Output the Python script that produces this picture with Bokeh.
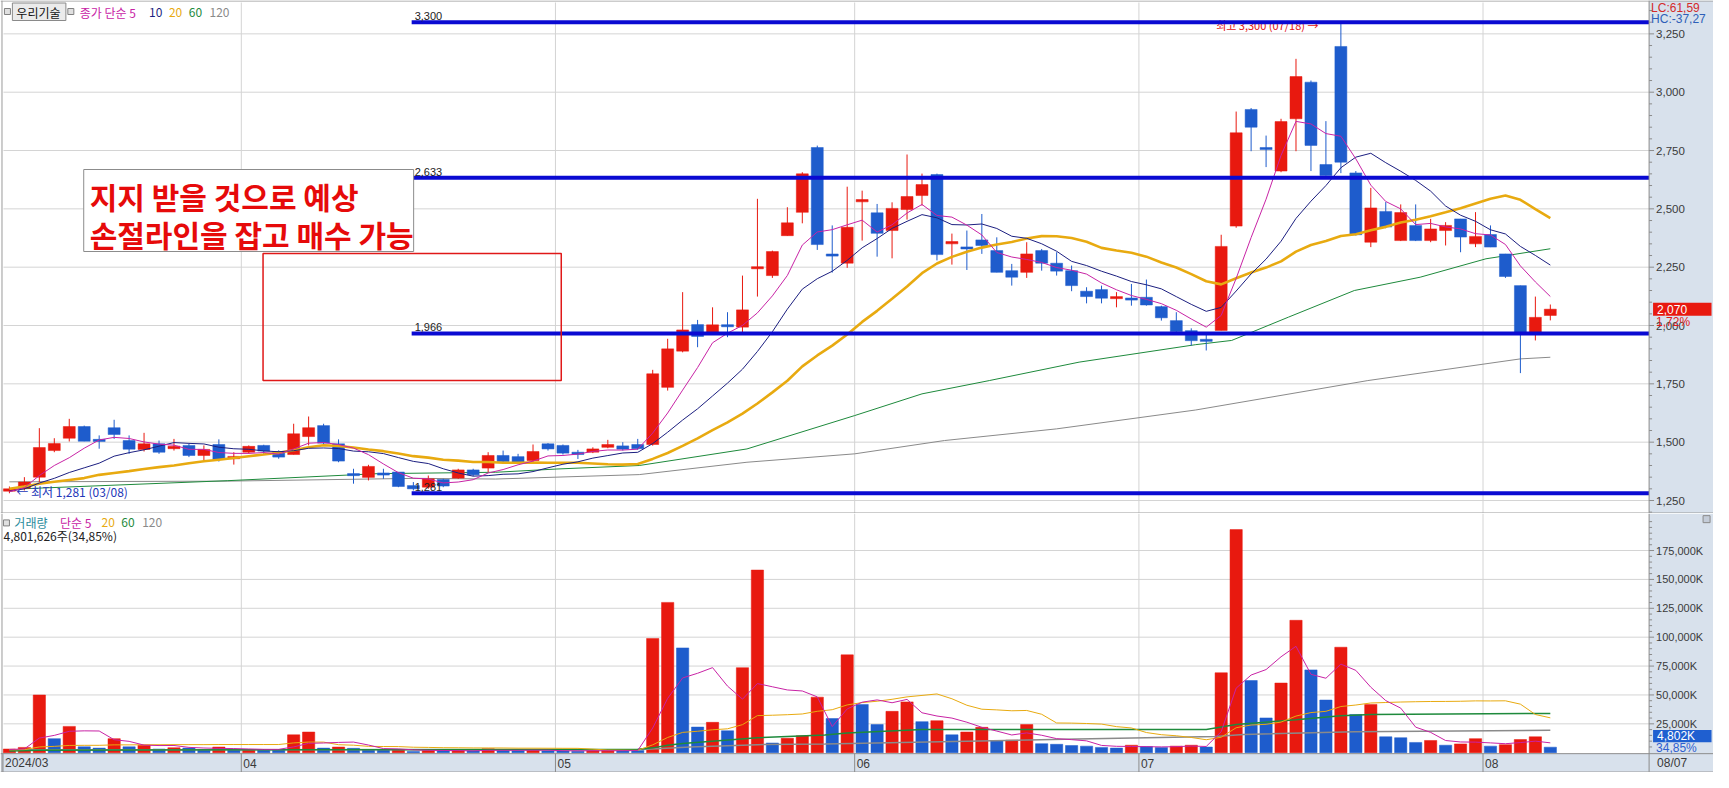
import numpy as np
import pandas as pd
from bokeh.plotting import figure
from bokeh.layouts import column
from bokeh.models import Range1d, ColumnDataSource
from bokeh.core.properties import value
from bokeh.embed import file_html
from bokeh.resources import INLINE

# ---------------- data (우리기술, daily) ----------------
holidays = ["2024-04-10", "2024-05-01", "2024-05-06", "2024-05-15", "2024-06-06"]
dates = [d for d in pd.bdate_range("2024-03-08", "2024-08-07") if d.strftime("%Y-%m-%d") not in holidays]

opens = [1290, 1303, 1350, 1464, 1517, 1567, 1510, 1562, 1507, 1469,
         1493, 1472, 1486, 1443, 1490, 1429, 1457, 1486, 1460, 1447,
         1524, 1571, 1493, 1362, 1349, 1365, 1372, 1314, 1307, 1340,
         1346, 1381, 1389, 1443, 1438, 1421, 1493, 1486, 1457, 1457,
         1478, 1484, 1490, 1490, 1735, 1890, 2004, 1971, 2000, 1993,
         2245, 2214, 2385, 2485, 2763, 2304, 2267, 2530, 2483, 2407,
         2497, 2557, 2647, 2350, 2335, 2367, 2321, 2235, 2228, 2321,
         2267, 2235, 2147, 2154, 2118, 2117, 2121, 2081, 2021, 1978,
         1938, 1979, 2426, 2926, 2760, 2662, 2886, 3043, 2690, 3196,
         2654, 2357, 2489, 2364, 2429, 2364, 2407, 2457, 2350, 2390,
         2307, 2171, 1971, 2043]
highs = [1310, 1350, 1560, 1517, 1600, 1571, 1529, 1596, 1529, 1540,
         1507, 1514, 1493, 1486, 1512, 1457, 1486, 1489, 1465, 1579,
         1610, 1579, 1512, 1386, 1403, 1386, 1372, 1329, 1357, 1343,
         1386, 1386, 1457, 1464, 1450, 1490, 1496, 1490, 1467, 1478,
         1510, 1500, 1514, 1810, 1943, 2143, 2024, 2078, 2057, 2214,
         2543, 2321, 2507, 2657, 2771, 2429, 2595, 2578, 2521, 2528,
         2733, 2651, 2651, 2394, 2407, 2478, 2378, 2264, 2357, 2328,
         2314, 2257, 2164, 2171, 2143, 2178, 2197, 2085, 2057, 1988,
         1964, 2389, 2917, 2932, 2814, 2886, 3143, 3050, 2876, 3300,
         2662, 2590, 2529, 2519, 2519, 2457, 2443, 2457, 2486, 2429,
         2307, 2171, 2124, 2090]
lows = [1281, 1293, 1329, 1457, 1503, 1504, 1472, 1514, 1450, 1460,
        1450, 1464, 1436, 1422, 1417, 1404, 1450, 1450, 1429, 1447,
        1486, 1489, 1414, 1322, 1336, 1343, 1307, 1293, 1300, 1307,
        1343, 1354, 1372, 1407, 1407, 1414, 1464, 1447, 1428, 1453,
        1474, 1464, 1467, 1485, 1721, 1885, 1907, 1964, 1950, 1971,
        2124, 2204, 2385, 2438, 2324, 2227, 2247, 2364, 2295, 2288,
        2454, 2514, 2279, 2261, 2238, 2307, 2228, 2171, 2204, 2235,
        2214, 2147, 2095, 2095, 2078, 2085, 2085, 2021, 1968, 1914,
        1893, 1979, 2419, 2747, 2679, 2657, 2747, 2662, 2643, 2653,
        2386, 2336, 2417, 2362, 2362, 2357, 2343, 2314, 2336, 2336,
        2204, 1796, 1936, 2022]
closes = [1300, 1329, 1477, 1494, 1567, 1504, 1505, 1533, 1470, 1493,
          1457, 1483, 1443, 1469, 1426, 1439, 1482, 1462, 1436, 1536,
          1562, 1496, 1419, 1360, 1396, 1362, 1310, 1300, 1343, 1312,
          1381, 1360, 1443, 1417, 1414, 1460, 1471, 1453, 1447, 1471,
          1490, 1470, 1472, 1793, 1900, 1981, 1953, 2003, 1998, 2067,
          2250, 2317, 2440, 2650, 2347, 2300, 2421, 2540, 2395, 2502,
          2553, 2604, 2304, 2360, 2330, 2343, 2228, 2207, 2307, 2267,
          2233, 2171, 2124, 2117, 2121, 2110, 2088, 2033, 1974, 1935,
          1935, 2339, 2826, 2850, 2757, 2874, 3067, 2772, 2643, 2700,
          2389, 2504, 2422, 2484, 2364, 2414, 2429, 2379, 2382, 2336,
          2210, 1971, 2035, 2070]
volumes = [3200, 4600, 49960, 12200, 22800, 5100, 4000, 12200, 5100, 6500,
           3200, 4300, 4000, 2400, 4900, 2400, 2600, 2400, 2300, 15500,
           17900, 4000, 4900, 3800, 2700, 2500, 2600, 1050, 1860, 1700,
           1860, 1600, 3500, 1900, 1700, 2300, 1500, 1400, 1300, 2000,
           2200, 2000, 1900, 98900, 130100, 90700, 22200, 26300, 19000, 73600,
           158100, 8400, 12500, 14600, 48100, 29600, 84700, 41800, 24400, 35800,
           44000, 26900, 27700, 15500, 17900, 22000, 10500, 10900, 24400, 7800,
           7300, 6200, 5700, 4600, 4000, 6500, 5400, 4600, 5700, 6500,
           4900, 69200, 193100, 62500, 30100, 60300, 114600, 71700, 45600, 91300,
           33100, 41800, 13800, 13000, 8900, 10600, 6500, 7600, 12200, 5700,
           7000, 11400, 13780, 4802]   # thousand shares
last_volume_shares = 4801626
lc_hc = ["LC:61,59", "HC:-37,27"]

# moving-average values read from the picture where earlier history is not shown
ma5_early = [1288, 1305, 1357, 1400]
ma10_early = [1290, 1300, 1325, 1345, 1370, 1390, 1410, 1440, 1455]
ma20_early = [1300, 1310, 1322, 1330, 1338, 1346, 1360, 1368, 1376, 1385,
              1393, 1400, 1410, 1418, 1425, 1432, 1440, 1447, 1455]
ma60_idx = [0, 14.6, 24.6, 32.5, 36.6, 42.1, 49.3, 56.5, 61.0, 65.5, 71.5, 79.3, 81.7, 85.5, 89.9, 94.3, 98.7, 103]
ma60_val = [1298, 1335, 1365, 1371, 1385, 1400, 1471, 1614, 1707, 1764, 1843, 1918, 1936, 2036, 2150, 2207, 2286, 2329]
ma120_idx = [0, 14.6, 27.2, 32.5, 42.1, 49.3, 56.5, 62.5, 70.0, 79.3, 90.8, 101.0, 103]
ma120_val = [1330, 1333, 1345, 1342, 1361, 1414, 1450, 1507, 1557, 1638, 1764, 1857, 1864]

vma5_early = [2800, 3300, 12700, 15000]
vma20_early = [2500, 2700, 5000, 5500, 6300, 6400, 6400, 6800, 6800, 6900,
               6900, 7000, 7000, 7000, 7100, 7100, 7100, 7100, 7100]
vma60_idx = [0, 2, 42, 43, 44, 45, 50, 54.5, 56, 61, 80, 82, 86, 89, 91, 103]
vma60_val = [1400, 2200, 3000, 4200, 6400, 7900, 13000, 15400, 17000, 20000, 20000, 24400, 28500, 32000, 33100, 34000]
vma120_idx = [0, 42, 45.5, 50, 54.5, 71.4, 80.6, 82.5, 89.9, 103]
vma120_val = [2500, 2500, 5000, 7000, 7600, 11900, 14100, 15800, 18200, 19500]

levels = [3300, 2633, 1966, 1281]
price_ticks = [1250, 1500, 1750, 2000, 2250, 2500, 2750, 3000, 3250]
vol_ticks = [25000, 50000, 75000, 100000, 125000, 150000, 175000]

# ---------------- style ----------------
RED = "#e8190f"
BLUE = "#1e5ccc"
LEVEL = "#0a0ad2"
PANEL = "#d8e1ec"
GRID = "#d4d4d4"
EDGE = "#8c8c8c"
TXT = "#3a3a3a"
C_MA5, C_MA10, C_MA20, C_MA60, C_MA120 = "#c823a5", "#1c1f80", "#e8aa10", "#1e8a3c", "#8a8a8a"
KR = "Noto Sans CJK KR"
NUM = "Liberation Sans"

W, H1, H2 = 1713, 513, 259


def X(px):   # reference pixel -> candle index
    return (px - 9) / 15.1


def P(py):   # reference pixel -> price
    return 1250 + (500 - py) * 4.286


def V(py):   # reference pixel -> volume (K)
    return (767 - py) / 30.67 * 25000


n = len(closes)
idx = np.arange(n)
o = np.array(opens, float)
h = np.array(highs, float)
l = np.array(lows, float)
c = np.array(closes, float)
v = np.array(volumes, float)

ma5 = pd.Series(c).rolling(5).mean().to_numpy()
ma5[:4] = ma5_early
ma10 = pd.Series(c).rolling(10).mean().to_numpy()
ma10[:9] = ma10_early
ma20 = pd.Series(c).rolling(20).mean().to_numpy()
ma20[:19] = ma20_early
vma5 = pd.Series(v).rolling(5).mean().to_numpy()
vma5[:4] = vma5_early
vma20 = pd.Series(v).rolling(20).mean().to_numpy()
vma20[:19] = vma20_early

months = [d.month for d in dates]
bounds = [i - 0.5 for i in range(1, n) if months[i] != months[i - 1]]
month_names = [dates[0].strftime("%Y/%m")] + [f"{dates[i].month:02d}" for i in range(1, n) if months[i] != months[i - 1]]

col = np.where(c >= o, RED, BLUE)
bt = np.maximum(o, c)
bb = np.minimum(o, c)
pad = np.clip(9 - (bt - bb), 0, None) / 2
src = ColumnDataSource(dict(x=idx, h=h, l=l, bt=bt + pad, bb=bb - pad, col=col))

vcol = [RED] + [RED if v[i] >= v[i - 1] else BLUE for i in range(1, n)]
vsrc = ColumnDataSource(dict(x=idx, v=v, col=vcol))

xr = Range1d(X(0), X(1729))


def bare(height, yr):
    f = figure(width=W, height=height, x_range=xr, y_range=yr, output_backend="svg",
               toolbar_location=None, x_axis_location=None, y_axis_location=None,
               min_border=0, background_fill_color="white", border_fill_color="white",
               outline_line_color=None)
    f.grid.visible = False
    return f


def gtext(fig, x, y, s, color, size="12px", font=KR, align="left", baseline="middle",
          style="normal", yoff=0, xoff=0):
    fig.text(x=[x], y=[y], text=[s], text_color=color, text_font=value(font), text_font_size=size,
             text_align=align, text_baseline=baseline, text_font_style=style, y_offset=yoff, x_offset=xoff)


def hseg(fig, ys, x0, x1, color, width=1):
    fig.segment(x0=[x0] * len(ys), y0=list(ys), x1=[x1] * len(ys), y1=list(ys), line_color=color, line_width=width)


def vseg(fig, xs, y0, y1, color, width=1):
    fig.segment(x0=list(xs), y0=[y0] * len(xs), x1=list(xs), y1=[y1] * len(xs), line_color=color, line_width=width)


def box(fig, left, right, top, bottom, fill=None, line="#8c8c8c", width=1):
    fig.quad(left=[left], right=[right], top=[top], bottom=[bottom],
             fill_color=fill if fill else "white", fill_alpha=1 if fill else 0,
             line_color=line, line_width=width)


# ---------------- price pane ----------------
p = bare(H1, Range1d(P(513), P(0)))
hseg(p, price_ticks, X(3), X(1664), GRID)
vseg(p, bounds, P(2), P(513), GRID)

p.line(ma120_idx, ma120_val, line_color=C_MA120, line_width=1)
p.line(ma60_idx, ma60_val, line_color=C_MA60, line_width=1)
p.segment("x", "l", "x", "h", source=src, line_color="col", line_width=1)
p.vbar(x="x", width=0.8, top="bt", bottom="bb", source=src, fill_color="col", line_color="col", line_width=0.5)
p.line(idx, ma20, line_color=C_MA20, line_width=2.6)
p.line(idx, ma10, line_color=C_MA10, line_width=1)
p.line(idx, ma5, line_color=C_MA5, line_width=1)

# high / low markers
gtext(p, X(1227), P(24), f"최고 {max(highs):,} ({dates[int(np.argmax(h))].strftime('%m/%d')}) →", "#e01010", size="11px")
gtext(p, X(16), P(491), f"← 최저 {min(lows):,} ({dates[int(np.argmin(l))].strftime('%m/%d')})", "#2236b8", size="12px")

# support / resistance lines
hseg(p, levels, X(415), X(1664), LEVEL, width=4)
for lv in levels:
    gtext(p, X(418), lv, f"{lv:,}", "#222222", size="11px", font=NUM, baseline="bottom", yoff=-2)

# right price scale panel
p.quad(left=[X(1664)], right=[X(1729)], bottom=[P(513)], top=[P(0)], fill_color=PANEL, line_color=None)
vseg(p, [X(1664)], P(0), P(513), EDGE)
minor_p = [m for m in range(1200, 3400, 50) if m not in price_ticks]
hseg(p, minor_p, X(1664), X(1667), EDGE)
hseg(p, price_ticks, X(1664), X(1669), EDGE)
for t in price_ticks:
    gtext(p, X(1671), t, f"{t:,}", TXT, size="11.5px", font=NUM)
gtext(p, X(1666), P(7), lc_hc[0], "#d42a2a", font=NUM)
gtext(p, X(1666), P(18), lc_hc[1], "#2e5fb8", font=NUM)
half = 6.5 * 4.286
p.quad(left=[X(1668)], right=[X(1727)], bottom=[closes[-1] - half], top=[closes[-1] + half],
       fill_color=RED, line_color=None)
gtext(p, X(1672), closes[-1], f"{closes[-1]:,}", "white", size="12px", font=NUM)
pct = (closes[-1] / closes[-2] - 1) * 100
gtext(p, X(1671), P(321), f"{pct:.2f}%".replace(".", ","), "#e01818", size="12px", font=NUM)

# frame edges
hseg(p, [P(0.5)], X(0), X(1729), "#9a9a9a")
vseg(p, [X(1.5)], P(0), P(513), "#9a9a9a")
hseg(p, [P(512.5)], X(0), X(1729), "#9a9a9a")

# header legend
p.rect(x=[X(7), X(71)], y=[P(11), P(11)], width=6, height=6, width_units="screen", height_units="screen",
       fill_color="#e0e0e0", line_color="#808080")
box(p, X(12), X(66), P(2.5), P(20), fill="#ebebeb", line="#8a8a8a")
gtext(p, X(16), P(11.5), "우리기술", "#111111")
for xx, s, cc in [(80, "종가 단순 5", C_MA5), (150, "10", C_MA10), (170, "20", C_MA20),
                  (190, "60", C_MA60), (211, "120", C_MA120)]:
    gtext(p, X(xx), P(11.5), s, cc)

# annotation box
box(p, X(84), X(417), P(169), P(251), fill="white", line="#8c8c8c")
gtext(p, X(90), P(195), "지지 받을 것으로 예상", "#e60a0a", size="30px", style="bold")
gtext(p, X(90), P(233), "손절라인을 잡고 매수 가능", "#e60a0a", size="30px", style="bold")
box(p, X(265), X(566), P(253), P(380), fill=None, line="#e01818", width=1.5)

# ---------------- volume pane ----------------
q = bare(H2, Range1d(V(788), V(513)))
hseg(q, vol_ticks, X(3), X(1664), GRID)
vseg(q, bounds, V(513), V(768), GRID)

q.vbar(x="x", width=0.82, top="v", bottom=0, source=vsrc, fill_color="col", line_color="col", line_width=0.5)
q.line(vma120_idx, vma120_val, line_color=C_MA120, line_width=1.5)
q.line(vma60_idx, vma60_val, line_color=C_MA60, line_width=1.5)
q.line(idx, vma20, line_color=C_MA20, line_width=1)
q.line(idx, vma5, line_color=C_MA5, line_width=1)

q.rect(x=[X(6)], y=[V(523)], width=6, height=6, width_units="screen", height_units="screen",
       fill_color="#e0e0e0", line_color="#808080")
for xx, s, cc in [(14, "거래량", "#2a8c9c"), (60, "단순 5", C_MA5), (102, "20", C_MA20),
                  (122, "60", C_MA60), (143, "120", C_MA120)]:
    gtext(q, X(xx), V(523), s, cc)
vpct = volumes[-1] / volumes[-2] * 100
gtext(q, X(3), V(536), f"{last_volume_shares:,}주({vpct:.2f}%)".replace(".", ","), "#222222")

# right volume scale panel + bottom date strip
q.quad(left=[X(1664)], right=[X(1729)], bottom=[V(788)], top=[V(513)], fill_color=PANEL, line_color=None)
q.quad(left=[X(0)], right=[X(1729)], bottom=[V(788)], top=[V(768)], fill_color=PANEL, line_color=None)
vseg(q, [X(1664)], V(513), V(788), EDGE)
hseg(q, [V(768)], X(0), X(1729), EDGE)
hseg(q, [V(787.5)], X(0), X(1729), "#9a9a9a")
vseg(q, [X(1.5)], V(513), V(788), "#9a9a9a")
minor_v = [m for m in range(5000, 205000, 5000) if m not in vol_ticks]
hseg(q, minor_v, X(1664), X(1667), EDGE)
hseg(q, vol_ticks, X(1664), X(1669), EDGE)
for t in vol_ticks:
    gtext(q, X(1671), t, f"{t:,}K", TXT, size="11px", font=NUM)
q.quad(left=[X(1668)], right=[X(1727)], bottom=[V(756)], top=[V(743)], fill_color="#1f5fd0", line_color=None)
gtext(q, X(1672), V(749.5), f"{volumes[-1]:,}K", "white", size="12px", font=NUM)
gtext(q, X(1671), V(762), f"{vpct:.2f}%".replace(".", ","), "#2e5fd0", size="12px", font=NUM)
q.rect(x=[X(1722)], y=[V(519)], width=7, height=7, width_units="screen", height_units="screen",
       fill_color="#c4ccd8", line_color="#8a8a8a")

xt = [X(2.5)] + bounds
vseg(q, xt, V(768), V(788), EDGE)
for t, s in zip(xt, month_names):
    gtext(q, t, V(778), s, TXT, size="12px", font=NUM, xoff=2)
gtext(q, X(1672), V(778), dates[-1].strftime("%m/%d"), TXT, size="12px", font=NUM)

layout = column(p, q, spacing=0)
open("out.html", "w").write(file_html(layout, INLINE))
